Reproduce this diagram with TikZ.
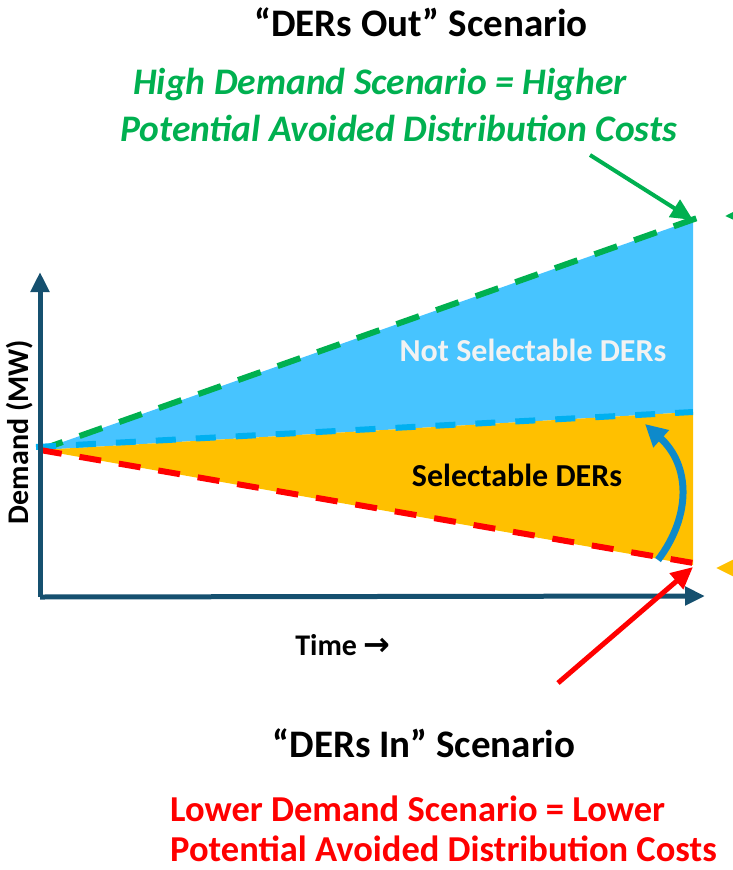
\documentclass[tikz,border=0pt]{standalone}
\usepackage{fontspec}
\setmainfont{Carlito}
\newfontfamily\arrowfont{DejaVu Sans}
\usetikzlibrary{arrows.meta, positioning, calc}

\definecolor{axisteal}{HTML}{15506F}
\definecolor{highgreen}{HTML}{00B050}
\definecolor{lowred}{HTML}{FF0000}
\definecolor{skyfill}{HTML}{47C4FF}
\definecolor{amberfill}{HTML}{FFC000}
\definecolor{midcyan}{HTML}{00B0F0}
\definecolor{curvblue}{HTML}{0E8ACB}

\begin{document}
\begin{tikzpicture}[
    x=1pt, y=-1pt,
    heading/.style={font=\fontsize{39}{46}\selectfont\bfseries, text=black},
    greennote/.style={anchor=west, font=\fontsize{37.5}{44}\selectfont\bfseries\itshape, text=highgreen, inner sep=0pt},
    rednote/.style={anchor=west, font=\fontsize{36.5}{44}\selectfont\bfseries, text=lowred, inner sep=0pt},
    axislabel/.style={font=\fontsize{30}{36}\selectfont\bfseries, text=black},
    arealabel/.style={font=\fontsize{32}{38}\selectfont\bfseries},
    axis/.style={draw=axisteal, line width=5pt, -{Triangle[length=20pt, width=18pt]}},
    scenline/.style={line width=6pt, dash pattern=on 24pt off 18pt},
    pointer/.style={line width=5pt, -{Triangle[length=22pt, width=20pt]}}
]
    \useasboundingbox (0,0) rectangle (733,870);

    % key points of the demand wedge
    \coordinate (origin) at (40,450);
    \coordinate (hightop) at (693,220);
    \coordinate (midtop) at (693,412);
    \coordinate (lowtop) at (693,565);
    \coordinate (yaxisend) at (40,272);
    \coordinate (xaxisend) at (705,596);
    \coordinate (axiscorner) at (40,597);

    % filled areas
    \fill[skyfill] (origin) -- (hightop) -- (midtop) -- cycle;
    \fill[amberfill] (origin) -- (midtop) -- (lowtop) -- cycle;

    % scenario lines
    \draw[scenline, highgreen] (origin) -- (700,217);
    \draw[scenline, midcyan, dash pattern=on 20pt off 20pt] (36,447) -- (midtop);
    \draw[scenline, lowred, dash pattern=on 22pt off 18pt] (origin) -- (705,565);

    % axes
    \draw[axis] (axiscorner) -- (yaxisend);
    \draw[axis] (axiscorner) -- (xaxisend);

    % titles and notes
    \node (outtitle) [heading] at (421,22) {“DERs Out” Scenario};
    \node (highnote1) [greennote] at (133,85) {High Demand Scenario = Higher};
    \node (highnote2) [greennote] at (120,128) {Potential Avoided Distribution Costs};
    \node (intitle) [heading] at (424,743) {“DERs In” Scenario};
    \node (lownote1) [rednote] at (170,809) {Lower Demand Scenario = Lower};
    \node (lownote2) [rednote] at (170,849) {Potential Avoided Distribution Costs};

    \node (ylabel) [axislabel, rotate=90] at (20,432) {Demand (MW)};
    \node (xlabel) [axislabel] at (343,645) {Time {\arrowfont\bfseries\fontsize{32}{36}\selectfont →}};

    \node (notsel) [arealabel, text=white!95!black] at (533,350) {Not Selectable DERs};
    \node (sel) [arealabel, text=black] at (517,475) {Selectable DERs};

    % pointers
    \coordinate (greenstart) at (590,155);
    \coordinate (redstart) at (558,683);
    \draw[pointer, highgreen, line width=4pt] (greenstart) -- (hightop);
    \draw[pointer, lowred] (redstart) -- (693,567);
    \draw[curvblue, line width=7pt, -{Triangle[length=22pt, width=22pt]}]
        (658,560) .. controls (692,515) and (690,465) .. (645,424);

    % arrows cut off by the right edge
    \coordinate (greenoff) at (790,215);
    \coordinate (amberoff) at (780,568);
    \draw[pointer, highgreen, line width=4pt] (greenoff) -- (725,216);
    \draw[pointer, amberfill] (amberoff) -- (716,568);
\end{tikzpicture}
\end{document}
